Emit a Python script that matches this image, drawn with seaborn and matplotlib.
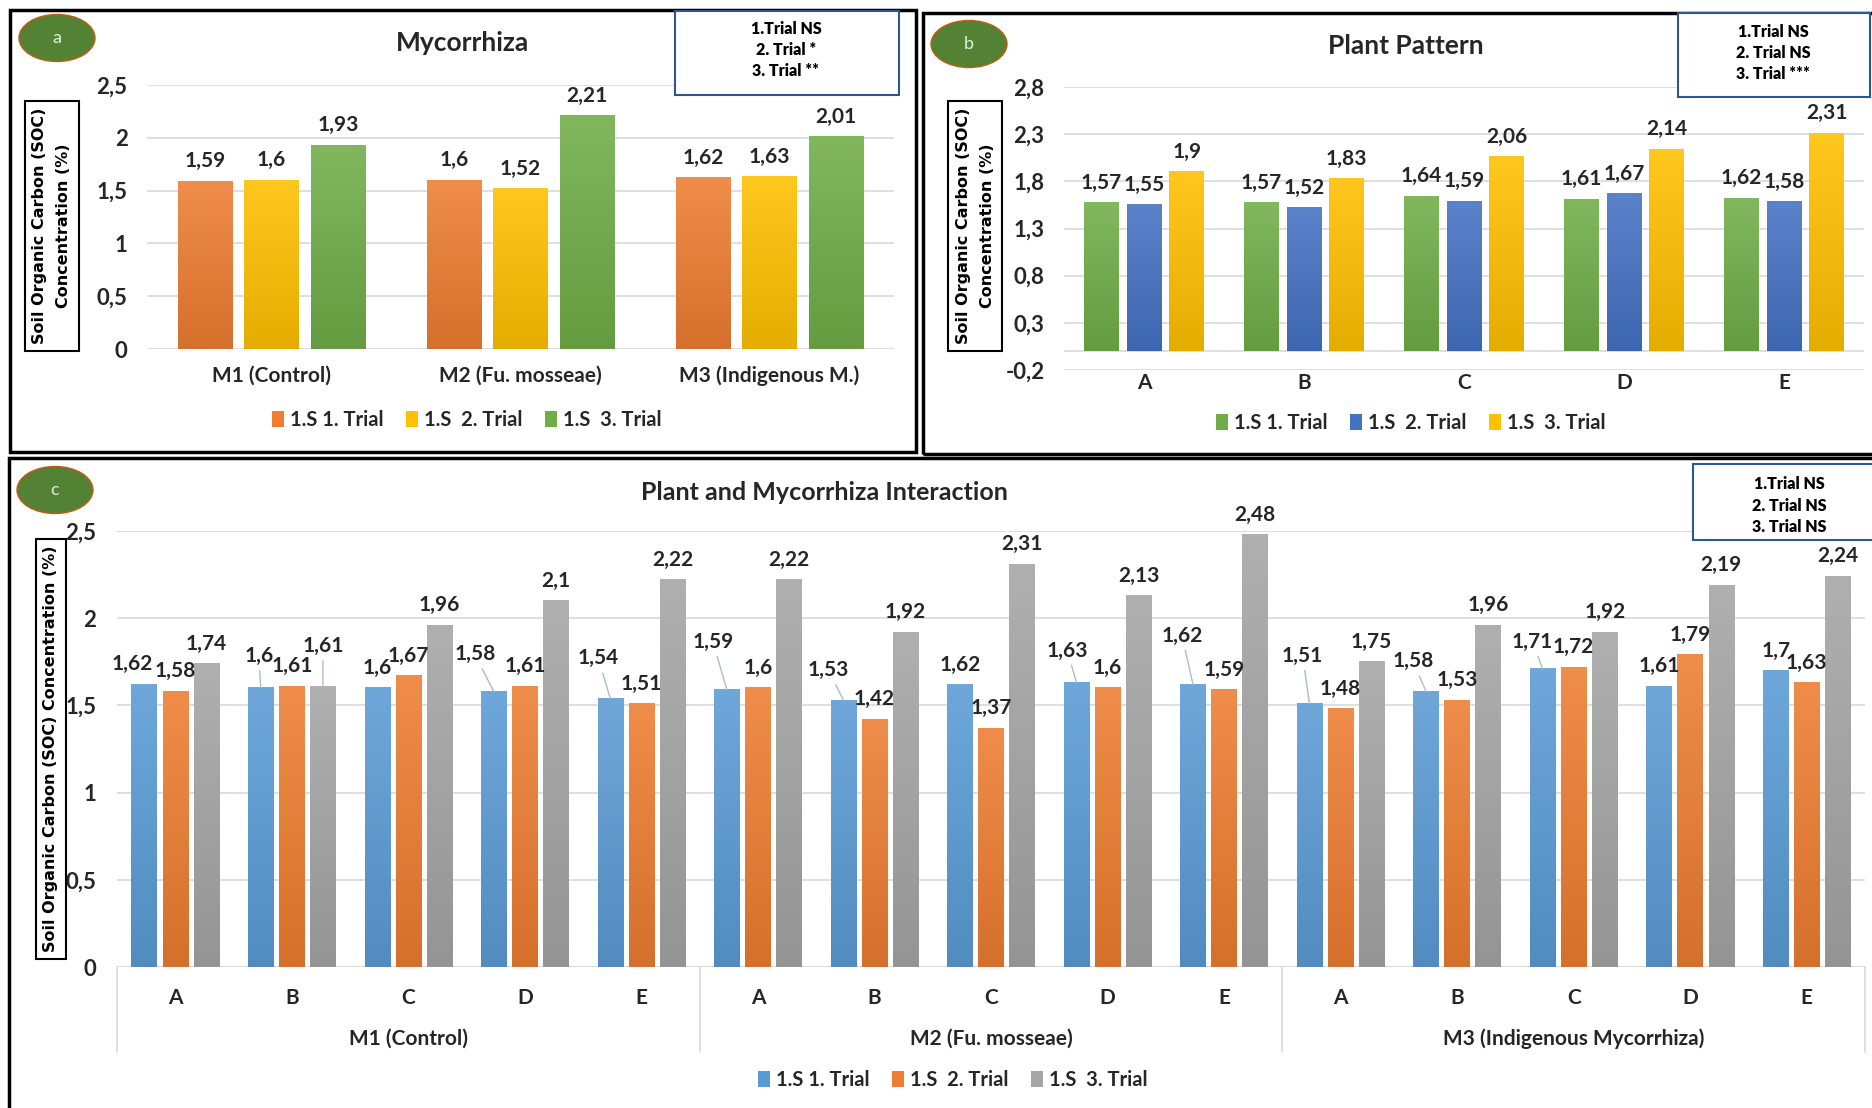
import numpy as np
import pandas as pd
import matplotlib
matplotlib.use("Agg")
import matplotlib.pyplot as plt
import seaborn as sns
from matplotlib.patches import Ellipse, Rectangle, Patch
from matplotlib.colors import to_rgb
from matplotlib.ticker import FuncFormatter, MultipleLocator
import matplotlib.transforms as mtransforms

# ---- data ----
trials = ["1.S 1. Trial", "1.S  2. Trial", "1.S  3. Trial"]

myc_cats = ["M1 (Control)", "M2 (Fu. mosseae)", "M3 (Indigenous M.)"]
myc_t1 = [1.59, 1.60, 1.62]
myc_t2 = [1.60, 1.52, 1.63]
myc_t3 = [1.93, 2.21, 2.01]

plant_cats = ["A", "B", "C", "D", "E"]
plant_t1 = [1.57, 1.57, 1.64, 1.61, 1.62]
plant_t2 = [1.55, 1.52, 1.59, 1.67, 1.58]
plant_t3 = [1.90, 1.83, 2.06, 2.14, 2.31]

inter_groups = ["M1 (Control)", "M2 (Fu. mosseae)", "M3 (Indigenous Mycorrhiza)"]
inter_t1 = [1.62, 1.60, 1.60, 1.58, 1.54, 1.59, 1.53, 1.62, 1.63, 1.62, 1.51, 1.58, 1.71, 1.61, 1.70]
inter_t2 = [1.58, 1.61, 1.67, 1.61, 1.51, 1.60, 1.42, 1.37, 1.60, 1.59, 1.48, 1.53, 1.72, 1.79, 1.63]
inter_t3 = [1.74, 1.61, 1.96, 2.10, 2.22, 2.22, 1.92, 2.31, 2.13, 2.48, 1.75, 1.96, 1.92, 2.19, 2.24]

sig_a = ["1.Trial NS", "2. Trial *", "3. Trial **"]
sig_b = ["1.Trial NS", "2. Trial NS", "3. Trial ***"]
sig_c = ["1.Trial NS", "2. Trial NS", "3. Trial NS"]

# label placement in panel c, as Excel moved them: (trial, bar) -> (dx px, dy px, leader line)
c_label_moves = {
    (0, 0): (-12, 21, False), (0, 1): (-2, 32, True), (0, 3): (-19, 37, True),
    (0, 4): (-12, 40, True), (0, 5): (-14, 48, True), (0, 6): (-15, 30, True),
    (0, 8): (-9, 32, True), (0, 9): (-11, 49, True), (0, 10): (-7, 48, True),
    (0, 11): (-13, 30, True), (0, 12): (-10, 27, True), (2, 1): (0, 40, True),
}

W, H = 1872, 1108
FONT = ["Lato", "DejaVu Sans"]
TXT = "#262626"
GRID = "#D9D9D9"

sns.set_theme(style="white")
plt.rcParams["font.family"] = FONT
plt.rcParams["font.weight"] = "bold"


def fx(x):
    return x / W


def fy(y):
    return 1 - y / H


def comma(v, pos=None):
    return f"{round(v, 2):g}".replace(".", ",")


def long_df(cats, series):
    rows = []
    for name, vals in zip(trials, series):
        for c, v in zip(cats, vals):
            rows.append({"cat": c, "trial": name, "value": v})
    return pd.DataFrame(rows)


def shade(col, t):
    c = np.array(to_rgb(col))
    return c + (1 - c) * t if t > 0 else c * (1 + t)


def gradient_bars(ax, colors):
    # Excel style fill: lighter at the top of each bar, darker at the base
    for cont, col in zip(ax.containers, colors):
        top, bot = shade(col, 0.12), shade(col, -0.1)
        grad = np.linspace(top, bot, 128).reshape(128, 1, 3)
        for p in cont.patches:
            x0, w, h = p.get_x(), p.get_width(), p.get_height()
            ax.imshow(grad, extent=[x0, x0 + w, 0, h], aspect="auto",
                      origin="upper", zorder=2, interpolation="bilinear")
            p.set_visible(False)


def label_bars(ax, size, moves=None, leader="#A9BCD0"):
    moves = moves or {}
    for i, cont in enumerate(ax.containers):
        for j, p in enumerate(cont.patches):
            h = p.get_height()
            dx, dy, line = moves.get((i, j), (0, 20, False))
            props = None
            if line:
                props = dict(arrowstyle="-", color=leader, lw=1, shrinkA=1, shrinkB=0)
            ax.annotate(comma(h), (p.get_x() + p.get_width() / 2, h),
                        xytext=(dx * 0.72, dy * 0.72), textcoords="offset points",
                        ha="center", va="center", fontsize=size,
                        color=TXT, fontweight="bold", annotation_clip=False,
                        arrowprops=props)


def style_axes(ax, ylim, step, ypad, xpad, ysize, xsize):
    ax.set_ylim(*ylim)
    ax.yaxis.set_major_locator(MultipleLocator(step))
    ax.yaxis.set_major_formatter(FuncFormatter(comma))
    ax.grid(axis="y", color=GRID, lw=1.2)
    ax.set_axisbelow(True)
    for s in ax.spines.values():
        s.set_visible(False)
    ax.tick_params(axis="y", length=0, pad=ypad, labelsize=ysize, labelcolor=TXT)
    ax.tick_params(axis="x", length=0, pad=xpad, labelsize=xsize, labelcolor=TXT)
    ax.set_xlabel("")
    ax.set_ylabel("")


def badge(fig, cx, cy, letter):
    fig.add_artist(Ellipse((fx(cx), fy(cy)), 76 / W, 47 / H, transform=fig.transFigure,
                           facecolor="#548235", edgecolor="#C55A11", lw=1))
    fig.text(fx(cx), fy(cy), letter, color="#E2F0D9", fontsize=13,
             fontweight="normal", ha="center", va="center")


def sig_box(fig, x0, y0, x1, y1, cx, ys, lines):
    fig.add_artist(Rectangle((fx(x0), fy(y1)), (x1 - x0) / W, (y1 - y0) / H,
                             transform=fig.transFigure, facecolor="white",
                             edgecolor="#2F5597", lw=1.5, zorder=5))
    for y, t in zip(ys, lines):
        fig.text(fx(cx), fy(y), t, ha="center", va="center", fontsize=11.5,
                 fontweight="heavy", color="black", zorder=6)


def ylab_box(fig, cx, cy, text, spacing):
    fig.text(fx(cx), fy(cy), text, rotation=90, ha="center", va="center",
             fontsize=11.5, fontweight="bold", color="black", family="DejaVu Sans",
             multialignment="center", linespacing=spacing,
             bbox=dict(boxstyle="square,pad=0.45", facecolor="white",
                       edgecolor="black", lw=1.5))


def border(fig, x0, y0, x1, y1):
    fig.add_artist(Rectangle((fx(x0), fy(y1)), (x1 - x0) / W, (y1 - y0) / H,
                             transform=fig.transFigure, fill=False,
                             edgecolor="black", lw=2.5))


def legend(fig, colors, cx, cy):
    handles = [Patch(facecolor=c, edgecolor="none") for c in colors]
    fig.legend(handles, trials, loc="center", bbox_to_anchor=(fx(cx), fy(cy)),
               ncol=3, frameon=False, fontsize=14.5, handlelength=0.6,
               handleheight=0.8, handletextpad=0.3, columnspacing=1.1,
               labelcolor=TXT)


fig = plt.figure(figsize=(W / 100, H / 100), dpi=100)
fig.patch.set_facecolor("white")

# ---- panel a: Mycorrhiza ----
col_a = ["#ED7D31", "#FFC000", "#70AD47"]
ax_a = fig.add_axes([fx(147), fy(349), 747 / W, 264 / H])
sns.barplot(data=long_df(myc_cats, [myc_t1, myc_t2, myc_t3]), x="cat", y="value",
            hue="trial", palette=col_a, width=0.8, gap=0.18, saturation=1,
            errorbar=None, legend=False, ax=ax_a)
gradient_bars(ax_a, col_a)
style_axes(ax_a, (0, 2.5), 0.5, 14, 12, 16, 15)
ax_a.set_xlim(-0.5, 2.5)
label_bars(ax_a, 15)
border(fig, 10, 10, 916, 452)
fig.text(fx(463), fy(43), "Mycorrhiza", ha="center", va="center", fontsize=19,
         fontweight="bold", color=TXT)
badge(fig, 57, 38, "a")
sig_box(fig, 675, 11, 899, 95, 786, [29, 50, 71], sig_a)
ylab_box(fig, 52, 226, "Soil Organic Carbon (SOC)\nConcentration (%)", 1.75)
legend(fig, col_a, 467, 420)

# ---- panel b: Plant Pattern ----
col_b = ["#70AD47", "#4472C4", "#FFC000"]
ax_b = fig.add_axes([fx(1064), fy(370), 800 / W, 283 / H])
sns.barplot(data=long_df(plant_cats, [plant_t1, plant_t2, plant_t3]), x="cat", y="value",
            hue="trial", palette=col_b, width=0.8, gap=0.18, saturation=1,
            errorbar=None, legend=False, ax=ax_b)
gradient_bars(ax_b, col_b)
style_axes(ax_b, (-0.2, 2.8), 0.5, 14, 2, 16, 15)
ax_b.set_yticks(np.arange(-0.2, 2.81, 0.5))
ax_b.axhline(0, color=GRID, lw=1.2, zorder=1)
ax_b.set_xlim(-0.5, 4.5)
label_bars(ax_b, 15)
border(fig, 923, 13, 1880, 454)
fig.text(fx(1406), fy(46), "Plant Pattern", ha="center", va="center", fontsize=19,
         fontweight="bold", color=TXT)
badge(fig, 969, 44, "b")
sig_box(fig, 1678, 13, 1870, 97, 1773, [32, 53, 74], sig_b)
ylab_box(fig, 975, 226, "Soil Organic Carbon (SOC)\nConcentration (%)", 1.75)
legend(fig, col_b, 1411, 423)

# ---- panel c: Plant and Mycorrhiza Interaction ----
col_c = ["#5B9BD5", "#ED7D31", "#A5A5A5"]
keys = [f"{g}|{c}" for g in inter_groups for c in plant_cats]
ax_c = fig.add_axes([fx(117), fy(967), 1748 / W, 436 / H])
sns.barplot(data=long_df(keys, [inter_t1, inter_t2, inter_t3]), x="cat", y="value",
            hue="trial", palette=col_c, width=0.8, gap=0.18, saturation=1,
            errorbar=None, legend=False, ax=ax_c)
gradient_bars(ax_c, col_c)
style_axes(ax_c, (0, 2.5), 0.5, 15, 15, 16, 15)
ax_c.set_xticks(range(len(keys)))
ax_c.set_xticklabels([k.split("|")[1] for k in keys])
ax_c.set_xlim(-0.5, len(keys) - 0.5)
ax_c.axhline(0, color=GRID, lw=1.2, zorder=1)
label_bars(ax_c, 15, c_label_moves)
trans = mtransforms.blended_transform_factory(ax_c.transData, ax_c.transAxes)
for xs in [-0.5, 4.5, 9.5, 14.5]:
    ax_c.plot([xs, xs], [0, -0.195], transform=trans, color=GRID, lw=1.2, clip_on=False)
for i, g in enumerate(inter_groups):
    ax_c.text(i * 5 + 2, -0.165, g, transform=trans, ha="center", va="center",
              fontsize=15, fontweight="bold", color=TXT)
border(fig, 9, 458, 1880, 1120)
fig.text(fx(824), fy(492), "Plant and Mycorrhiza Interaction", ha="center", va="center",
         fontsize=18, fontweight="bold", color=TXT)
badge(fig, 55, 490, "c")
sig_box(fig, 1693, 464, 1880, 540, 1789, [484, 506, 527], sig_c)
ylab_box(fig, 51, 749, "Soil Organic Carbon (SOC) Concentration (%)", 1.2)
legend(fig, col_c, 953, 1080)

fig.savefig("out.png", dpi=100, facecolor="white")
